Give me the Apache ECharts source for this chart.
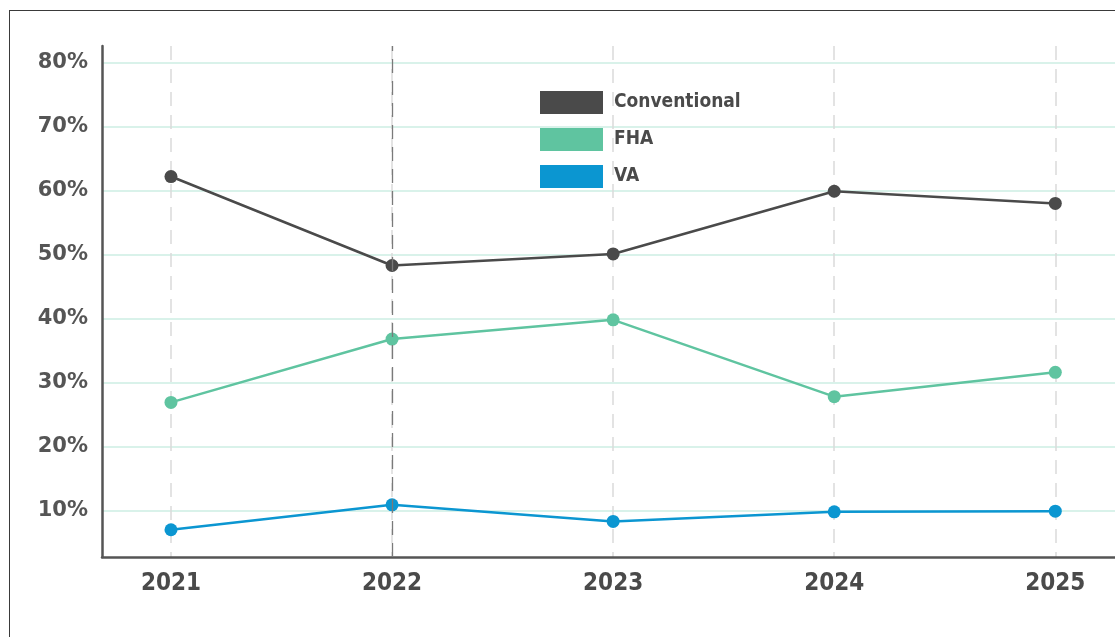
<!DOCTYPE html>
<html>
<head>
<meta charset="utf-8">
<script src="https://cdn.jsdelivr.net/npm/echarts@6/dist/echarts.min.js"></script>
<style>
  html, body { margin: 0; padding: 0; background: #fff; }
  #frame { position: absolute; left: 9px; top: 10px; width: 1200px; height: 700px; border: 1.5px solid #3a3a3a; }
  #main { position: absolute; left: 0; top: 0; width: 1115px; height: 637px; }
</style>
</head>
<body>
<div id="frame"></div>
<div id="main"></div>
<script>
// data
var years = ["2021", "2022", "2023", "2024", "2025"];
var conventional = [62.2, 48.3, 50.1, 59.9, 58.0];
var fha = [26.9, 36.8, 39.8, 27.8, 31.6];
var va = [7.0, 10.9, 8.3, 9.8, 9.9];
var seriesNames = ["Conventional", "FHA", "VA"];
var colors = ["#4a4a4a", "#5fc4a0", "#0b96d1"];

function pairs(vals) {
  return vals.map(function (v, i) { return [Number(years[i]), v]; });
}

var condensed = "'Liberation Sans Narrow', 'DejaVu Sans Condensed', sans-serif";

var mychart = echarts.init(document.getElementById("main"));
var option = {
  color: colors,
  animation: false,
  grid: {
    left: 102,
    right: 0,
    top: 46,
    bottom: 80,
    containLabel: false,
    outerBoundsMode: "none",
  },
  legend: {
    orient: "vertical",
    left: 535,
    top: 86,
    itemWidth: 63,
    itemHeight: 23,
    itemGap: 14,
    icon: "rect",
    textStyle: {
      color: "#4a4a4a",
      fontFamily: condensed,
      fontWeight: "bold",
      fontSize: 19,
      padding: [0, 0, 0, 6],
    },
    data: seriesNames,
  },
  xAxis: {
    type: "value",
    min: 2020.688,
    max: 2025.27,
    splitNumber: 5,
    axisLine: { show: true, lineStyle: { color: "#555", width: 2.5 } },
    axisTick: { show: false },
    axisLabel: {
      margin: 15,
      color: "#4a4a4a",
      fontFamily: condensed,
      fontWeight: "bold",
      fontSize: 24,
      formatter: function (v) {
        return Math.abs(v - Math.round(v)) < 1e-6 ? String(Math.round(v)) : "";
      },
    },
    splitLine: {
      show: true,
      showMinLine: false,
      showMaxLine: false,
      lineStyle: { color: "#dadada", type: [14, 9], width: 1.5 },
    },
  },
  yAxis: {
    type: "value",
    min: 2.74,
    max: 82.6,
    splitNumber: 8,
    axisLine: { show: true, lineStyle: { color: "#555", width: 2.5 } },
    axisTick: { show: false },
    axisLabel: {
      margin: 14,
      color: "#555",
      fontFamily: "'DejaVu Sans', sans-serif",
      fontWeight: "bold",
      fontSize: 21,
      formatter: function (v) {
        return Math.abs(v - Math.round(v / 10) * 10) < 1e-6 ? Math.round(v) + "%" : "";
      },
    },
    splitLine: {
      show: true,
      showMinLine: false,
      showMaxLine: false,
      lineStyle: { color: "#cdeee3", width: 1.5 },
    },
  },
  series: [
    {
      name: seriesNames[0],
      type: "line",
      data: pairs(conventional),
      symbol: "circle",
      symbolSize: 13,
      lineStyle: { width: 2.5 },
      markLine: {
        silent: true,
        symbol: "none",
        label: { show: false },
        lineStyle: { color: "#7a7a7a", type: [14, 8], width: 1.3 },
        data: [{ xAxis: 2022 }],
      },
      z: 3,
    },
    {
      name: seriesNames[1],
      type: "line",
      data: pairs(fha),
      symbol: "circle",
      symbolSize: 13,
      lineStyle: { width: 2.5 },
      z: 3,
    },
    {
      name: seriesNames[2],
      type: "line",
      data: pairs(va),
      symbol: "circle",
      symbolSize: 13,
      lineStyle: { width: 2.5 },
      z: 3,
    },
  ],
};
mychart.setOption(option);
</script>
</body>
</html>
